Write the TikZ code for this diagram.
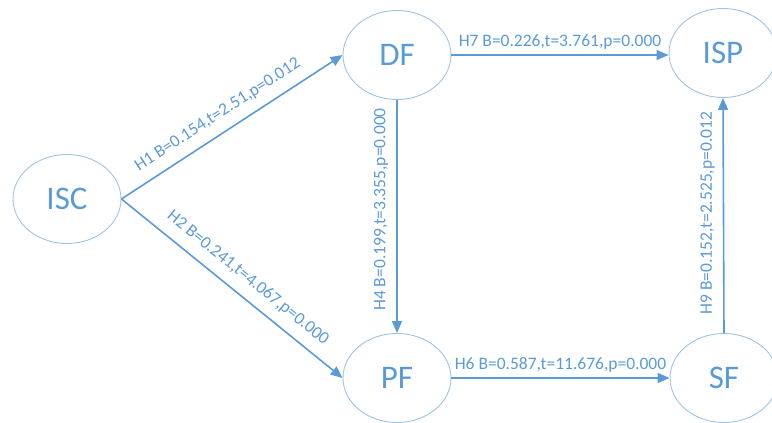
\documentclass[tikz,border=0pt]{standalone}
\usepackage{fontspec}
\setmainfont{Carlito}
\usetikzlibrary{arrows.meta,shapes.geometric}
\definecolor{lineblue}{HTML}{5B9BD5}
\definecolor{ringblue}{HTML}{9DC3E6}
\tikzset{
    var/.style = {draw=ringblue, ellipse, line width=0.9pt,
        minimum width=108pt, minimum height=89pt, inner sep=0pt,
        text=lineblue, font=\fontsize{33}{36}\selectfont},
    link/.style = {draw=lineblue, line width=1.6pt,
        -{Triangle[length=12pt,width=10pt]}},
    est/.style = {text=lineblue, font=\fontsize{17.5}{20}\selectfont, inner sep=5pt}
}
\begin{document}
\begin{tikzpicture}[x=1pt,y=-1pt]
                \useasboundingbox (0,0) rectangle (772,423);
                \node[var] (isc) at (67,199) {ISC};
                \node[var] (df) at (397,55) {DF};
                \node[var] (isp) at (723,53) {ISP};
                \node[var] (pf) at (397,378) {PF};
                \node[var] (sf) at (724,378) {SF};
                \draw [link] (isc.east) -- node[est,sloped,above,pos=0.48,inner sep=10pt] {H1 B=0.154,t=2.51,p=0.012} (df.west);
                \draw [link] (isc.east) -- node[est,sloped,above,pos=0.52,inner sep=10pt] {H2 B=0.241,t=4.067,p=0.000} (pf.west);
                \draw [link] (df.south) -- node[est,rotate=90,above,pos=0.47,inner sep=8pt] {H4 B=0.199,t=3.355,p=0.000} (pf.north);
                \draw [link] (df.east) -- node[est,above] {H7 B=0.226,t=3.761,p=0.000} (df.east -| isp.west);
                \draw [link] (pf.east) -- node[est,above] {H6 B=0.587,t=11.676,p=0.000} (pf.east -| sf.west);
                \draw [link] (sf.north) -- node[est,rotate=90,above,pos=0.51,inner sep=8pt] {H9 B=0.152,t=2.525,p=0.012} (isp.south);
            \end{tikzpicture}
\end{document}
